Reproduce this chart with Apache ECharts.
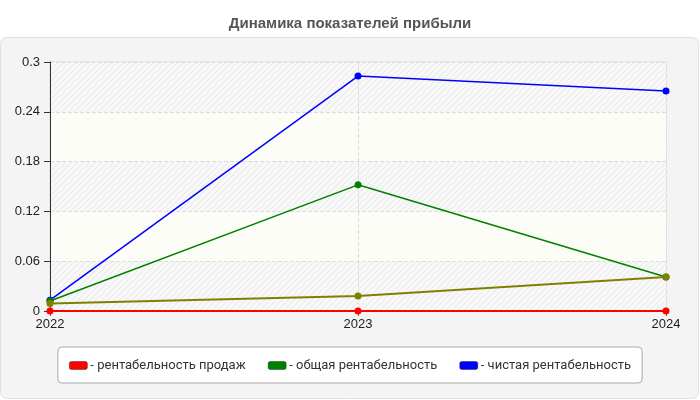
<!DOCTYPE html>
<html>
<head>
<meta charset="utf-8">
<script src="https://cdn.jsdelivr.net/npm/echarts@6/dist/echarts.min.js"></script>
<style>
	html, body { margin: 0; padding: 0; background: #fff; }
	#chart { width: 700px; height: 400px; }
</style>
</head>
<body>
<div id="chart"></div>
<script>
	var years = ['2022', '2023', '2024'];
	var salesProfit = [0, 0, 0];
	var totalProfit = [0.012, 0.152, 0.041];
	var netProfit = [0.013, 0.283, 0.265];
	var extraLine = [0.009, 0.018, 0.041];
	var legendNames = ['рентабельность продаж', 'общая рентабельность', 'чистая рентабельность'];

	// hatched fill for the striped bands
	function makeHatch(){
		var c = document.createElement('canvas');
		c.width = 6; c.height = 6;
		var ctx = c.getContext('2d');
		ctx.fillStyle = '#f8f8f8';
		ctx.fillRect(0, 0, 6, 6);
		ctx.strokeStyle = '#e8e8e8';
		ctx.lineWidth = 1;
		ctx.beginPath();
		ctx.moveTo(0, 6); ctx.lineTo(6, 0);
		ctx.moveTo(-1, 1); ctx.lineTo(1, -1);
		ctx.moveTo(5, 7); ctx.lineTo(7, 5);
		ctx.stroke();
		return c;
	}
	var hatch = { image: makeHatch(), repeat: 'repeat' };

	var chart = echarts.init(document.getElementById('chart'));

	function lineSeries(name, data, color, width){
		return {
			name: name,
			type: 'line',
			data: data,
			symbol: 'circle',
			symbolSize: 7,
			itemStyle: { color: color },
			lineStyle: { color: color, width: width },
			animation: false
		};
	}

	var option = {
		backgroundColor: '#fff',
		graphic: [{
			type: 'rect',
			z: -10,
			silent: true,
			shape: { x: 0.5, y: 37.5, width: 698, height: 361, r: 6 },
			style: { fill: '#f4f4f4', stroke: '#e2e2e2', lineWidth: 1 }
		}],
		title: {
			text: 'Динамика показателей прибыли',
			left: 'center',
			top: 11,
			textStyle: {
				color: '#555',
				fontSize: 15,
				fontWeight: 'bold',
				fontFamily: 'Liberation Sans'
			}
		},
		grid: {
			left: 50,
			right: 34,
			top: 62,
			bottom: 89,
			show: true,
			borderColor: '#ddd',
			borderWidth: 1,
			backgroundColor: 'transparent'
		},
		legend: {
			data: legendNames,
			bottom: 17,
			left: 'center',
			icon: 'roundRect',
			itemWidth: 18,
			itemHeight: 8,
			itemGap: 22,
			padding: [12, 11, 11, 11],
			backgroundColor: '#fff',
			borderColor: '#aaa',
			borderWidth: 1,
			borderRadius: 4,
			itemStyle: { borderColor: 'rgba(0,0,0,0.35)', borderWidth: 1 },
			formatter: function(name){ return '- ' + name; },
			textStyle: { color: '#333', fontSize: 13, fontFamily: 'Roboto', padding: [0, 0, 0, -2] }
		},
		xAxis: {
			type: 'category',
			data: years,
			boundaryGap: false,
			axisLine: { show: true, lineStyle: { color: '#333' } },
			axisTick: { show: true, length: 5, lineStyle: { color: '#666' } },
			axisLabel: { color: '#222', fontSize: 13, fontFamily: 'Liberation Sans', margin: 7 },
			splitLine: { show: true, lineStyle: { color: '#ddd', type: 'dashed' } }
		},
		yAxis: {
			type: 'value',
			min: 0,
			max: 0.3,
			interval: 0.06,
			axisLine: { show: true, lineStyle: { color: '#333' } },
			axisTick: { show: true, length: 6, lineStyle: { color: '#333' } },
			axisLabel: { color: '#222', fontSize: 13, fontFamily: 'Liberation Sans', margin: 10 },
			splitLine: { show: true, lineStyle: { color: '#ddd', type: 'dashed' } },
			splitArea: { show: true, areaStyle: { color: [hatch, '#fdfdf7'] } }
		},
		series: [
			lineSeries(legendNames[2], netProfit, '#0000ff', 1.5),
			lineSeries(legendNames[1], totalProfit, '#008000', 1.5),
			lineSeries('прочее', extraLine, '#808000', 2),
			lineSeries(legendNames[0], salesProfit, '#ff0000', 2)
		]
	};

	chart.setOption(option);
</script>
</body>
</html>
